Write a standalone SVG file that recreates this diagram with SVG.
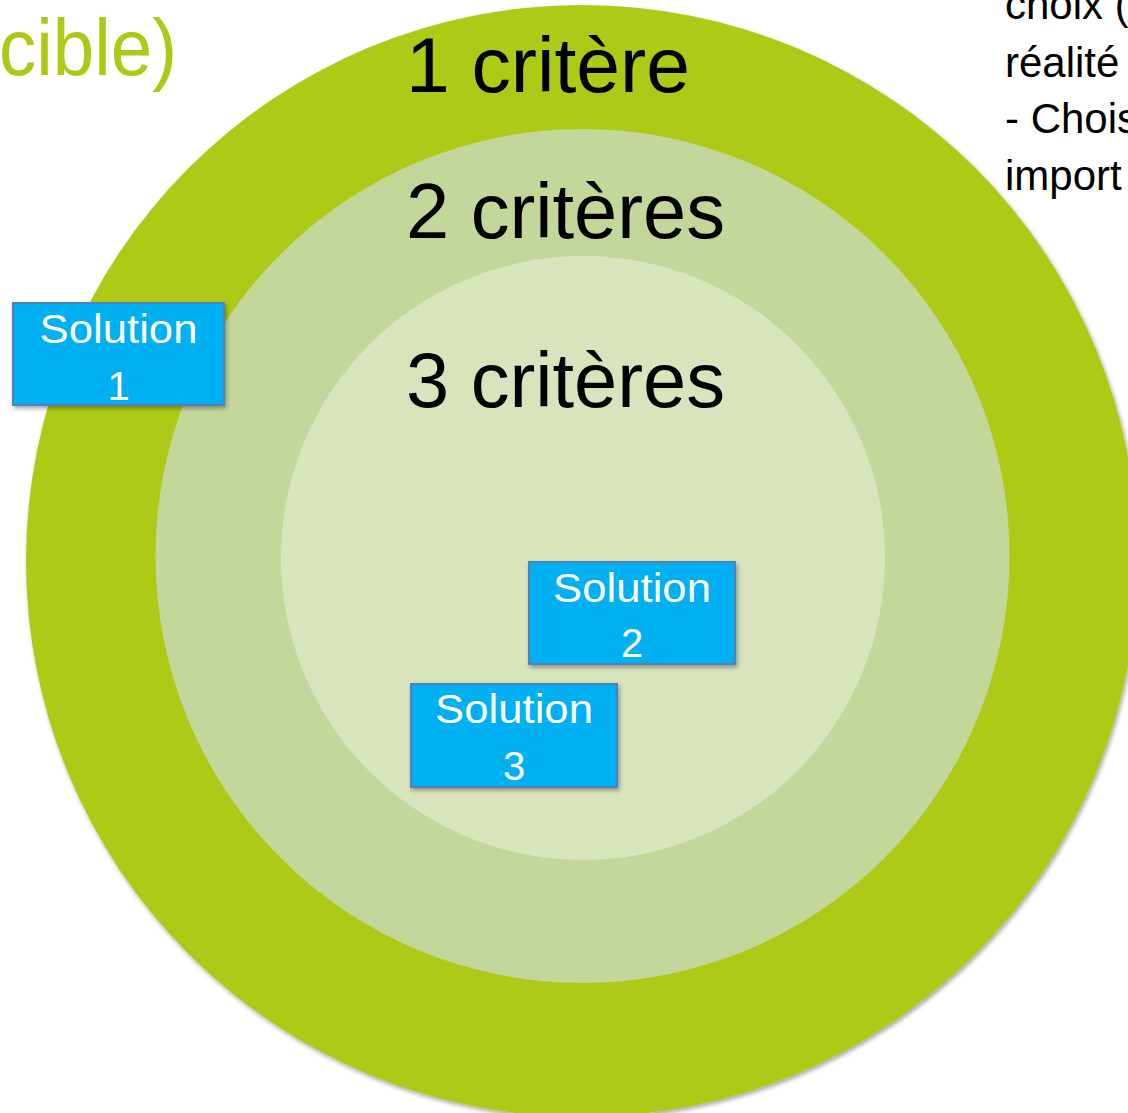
<svg xmlns="http://www.w3.org/2000/svg" width="1128" height="1113" viewBox="0 0 1128 1113">
  <style>
    .lbl { font-family: "Liberation Sans", Arial, sans-serif; font-size: 77px; fill: #000000; }
    .note { font-family: "Liberation Sans", Arial, sans-serif; font-size: 42px; fill: #000000; }
    .title { font-family: "Liberation Sans", Arial, sans-serif; font-size: 80px; fill: #ADC916; }
    .box { fill: #00B0F0; stroke: #4F81BD; stroke-width: 2; filter: url(#shadow); }
    .boxtxt { font-family: "Liberation Sans", Arial, sans-serif; font-size: 40px; fill: #FFFFFF; text-anchor: middle; }
  </style>
  <defs>
    <filter id="shadow" x="-10%" y="-10%" width="120%" height="120%">
      <feDropShadow dx="1.5" dy="2.5" stdDeviation="2" flood-color="#000000" flood-opacity="0.35"/>
    </filter>
  </defs>
  <rect x="0" y="0" width="1128" height="1113" fill="#FFFFFF"/>

  <g id="ring-1">
    <circle cx="582" cy="561" r="556" fill="#AECA15" filter="url(#shadow)"/>
  </g>
  <g id="ring-2">
    <circle cx="582.5" cy="556" r="427" fill="#C4D79B"/>
  </g>
  <g id="ring-3">
    <circle cx="583" cy="558" r="302" fill="#D8E4BC"/>
  </g>

  <g id="title">
    <text class="title" x="-1" y="75" textLength="178" lengthAdjust="spacingAndGlyphs">cible)</text>
  </g>

  <g id="notes">
    <text class="note" x="1005" y="19">choix (</text>
    <text class="note" x="1005" y="77">réalité</text>
    <text class="note" x="1005" y="133">- Chois</text>
    <text class="note" x="1005" y="190">import</text>
  </g>

  <g id="labels">
    <text id="label-1" class="lbl" x="406" y="92" textLength="284" lengthAdjust="spacingAndGlyphs">1 critère</text>
    <text id="label-2" class="lbl" x="406" y="238" textLength="319" lengthAdjust="spacingAndGlyphs">2 critères</text>
    <text id="label-3" class="lbl" x="406" y="407" textLength="319" lengthAdjust="spacingAndGlyphs">3 critères</text>
  </g>

  <g id="connectors"></g>

  <g id="solution-1">
    <rect class="box" x="13" y="303" width="211" height="102"/>
    <text class="boxtxt" x="118.5" y="343" textLength="158" lengthAdjust="spacingAndGlyphs">Solution</text>
    <text class="boxtxt" x="118.5" y="400">1</text>
  </g>
  <g id="solution-2">
    <rect class="box" x="529" y="562" width="206" height="102"/>
    <text class="boxtxt" x="632" y="602" textLength="158" lengthAdjust="spacingAndGlyphs">Solution</text>
    <text class="boxtxt" x="632" y="657">2</text>
  </g>
  <g id="solution-3">
    <rect class="box" x="411" y="684" width="206" height="103"/>
    <text class="boxtxt" x="514" y="723" textLength="158" lengthAdjust="spacingAndGlyphs">Solution</text>
    <text class="boxtxt" x="514" y="780">3</text>
  </g>
</svg>
